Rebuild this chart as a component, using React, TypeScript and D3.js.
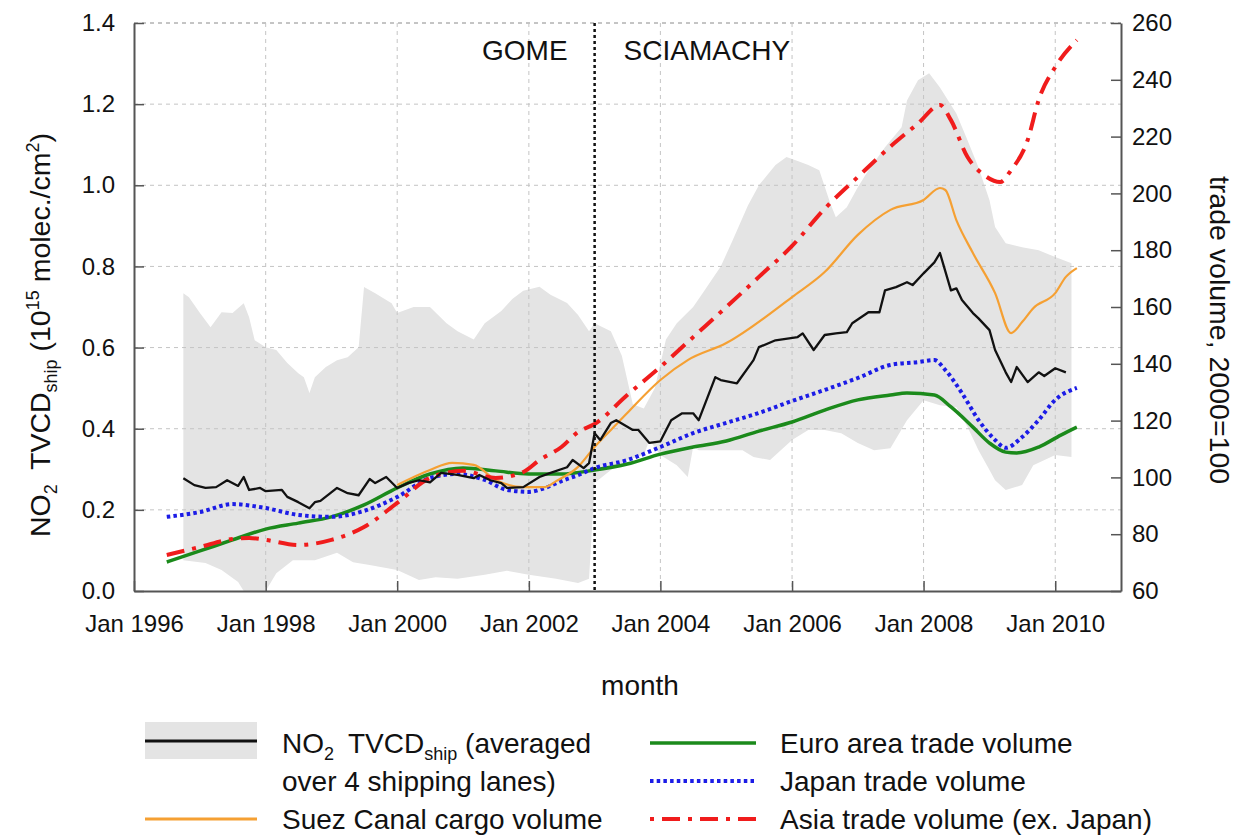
import { useRef, useEffect } from 'react'
import * as d3 from 'd3'

type Pt = [string, number]

// NO2 TVCD_ship averaged over 4 shipping lanes (1e15 molec./cm2), left axis
const no2Mean: Pt[] = [
  ['1996-10', 0.278], ['1996-12', 0.261], ['1997-02', 0.254], ['1997-04', 0.256], ['1997-06', 0.273],
  ['1997-08', 0.259], ['1997-09', 0.281], ['1997-10', 0.249], ['1997-12', 0.254], ['1998-01', 0.246],
  ['1998-04', 0.249], ['1998-05', 0.232], ['1998-07', 0.219], ['1998-09', 0.204], ['1998-10', 0.219],
  ['1998-11', 0.222], ['1999-02', 0.254], ['1999-04', 0.241], ['1999-06', 0.236], ['1999-08', 0.276],
  ['1999-09', 0.266], ['1999-11', 0.281], ['2000-01', 0.254], ['2000-03', 0.266], ['2000-05', 0.273],
  ['2000-07', 0.268], ['2000-09', 0.291], ['2000-12', 0.286], ['2001-03', 0.278], ['2001-04', 0.286],
  ['2001-06', 0.273], ['2001-08', 0.266], ['2001-09', 0.254], ['2001-12', 0.256], ['2002-03', 0.281],
  ['2002-05', 0.291], ['2002-08', 0.305], ['2002-09', 0.323], ['2002-11', 0.303], ['2002-12', 0.315],
  ['2003-01', 0.389], ['2003-02', 0.372], ['2003-04', 0.414], ['2003-05', 0.421], ['2003-08', 0.397],
  ['2003-09', 0.397], ['2003-11', 0.365], ['2004-01', 0.369], ['2004-03', 0.421], ['2004-05', 0.438],
  ['2004-07', 0.438], ['2004-08', 0.421], ['2004-11', 0.527], ['2004-12', 0.52], ['2005-03', 0.512],
  ['2005-06', 0.569], ['2005-07', 0.601], ['2005-10', 0.618], ['2006-02', 0.626], ['2006-03', 0.635],
  ['2006-05', 0.594], ['2006-07', 0.631], ['2006-09', 0.635], ['2006-11', 0.638], ['2006-12', 0.66],
  ['2007-03', 0.687], ['2007-05', 0.687], ['2007-06', 0.741], ['2007-08', 0.749], ['2007-10', 0.761],
  ['2007-11', 0.754], ['2008-01', 0.783], ['2008-03', 0.81], ['2008-04', 0.833], ['2008-06', 0.741],
  ['2008-07', 0.746], ['2008-08', 0.717], ['2008-10', 0.685], ['2008-11', 0.672], ['2009-01', 0.643],
  ['2009-02', 0.594], ['2009-04', 0.539], ['2009-05', 0.515], ['2009-06', 0.552], ['2009-08', 0.515],
  ['2009-10', 0.539], ['2009-11', 0.53], ['2010-01', 0.549], ['2010-03', 0.539],
]

// spread of the 4 lanes (grey band)
const no2Upper: Pt[] = [
  ['1996-10', 0.734], ['1996-11', 0.724], ['1997-01', 0.685], ['1997-03', 0.65], ['1997-05', 0.687],
  ['1997-07', 0.685], ['1997-09', 0.709], ['1997-10', 0.675], ['1997-11', 0.618], ['1998-01', 0.601],
  ['1998-03', 0.594], ['1998-05', 0.562], ['1998-07', 0.537], ['1998-08', 0.527], ['1998-09', 0.488],
  ['1998-10', 0.527], ['1998-12', 0.552], ['1999-02', 0.569], ['1999-04', 0.576], ['1999-06', 0.601],
  ['1999-07', 0.749], ['1999-09', 0.734], ['1999-12', 0.709], ['2000-01', 0.685], ['2000-04', 0.7],
  ['2000-07', 0.7], ['2000-10', 0.66], ['2000-12', 0.64], ['2001-03', 0.62], ['2001-05', 0.66],
  ['2001-08', 0.69], ['2001-10', 0.72], ['2001-12', 0.74], ['2002-03', 0.75], ['2002-05', 0.73],
  ['2002-08', 0.71], ['2002-10', 0.68], ['2002-12', 0.64], ['2003-01', 0.66], ['2003-04', 0.64],
  ['2003-06', 0.58], ['2003-08', 0.46], ['2003-10', 0.45], ['2003-12', 0.5], ['2004-02', 0.62],
  ['2004-04', 0.66], ['2004-07', 0.7], ['2004-09', 0.74], ['2004-12', 0.8], ['2005-02', 0.86],
  ['2005-05', 0.95], ['2005-07', 1.0], ['2005-10', 1.05], ['2005-12', 1.07], ['2006-02', 1.06],
  ['2006-04', 1.05], ['2006-06', 1.037], ['2006-08', 0.956], ['2006-09', 0.921], ['2006-11', 0.946],
  ['2007-01', 0.995], ['2007-03', 1.037], ['2007-06', 1.094], ['2007-09', 1.143], ['2007-10', 1.209],
  ['2007-12', 1.259], ['2008-02', 1.276], ['2008-04', 1.241], ['2008-07', 1.177], ['2008-09', 1.111],
  ['2008-11', 1.044], ['2009-01', 0.963], ['2009-02', 0.897], ['2009-04', 0.857], ['2009-07', 0.847],
  ['2009-10', 0.84], ['2010-01', 0.823], ['2010-04', 0.808],
]

const no2Lower: Pt[] = [
  ['1996-10', 0.076], ['1997-02', 0.069], ['1997-05', 0.052], ['1997-08', 0.022], ['1997-09', 0.0],
  ['1998-01', 0.0], ['1998-03', 0.044], ['1998-06', 0.076], ['1998-10', 0.076], ['1999-02', 0.094],
  ['1999-05', 0.071], ['1999-08', 0.064], ['2000-01', 0.052], ['2000-05', 0.027], ['2000-08', 0.034],
  ['2000-12', 0.03], ['2001-05', 0.04], ['2001-09', 0.05], ['2002-01', 0.04], ['2002-06', 0.03],
  ['2002-10', 0.02], ['2002-12', 0.03], ['2003-01', 0.266], ['2003-04', 0.298], ['2003-07', 0.323],
  ['2003-10', 0.335], ['2003-11', 0.372], ['2004-01', 0.335], ['2004-04', 0.31], ['2004-06', 0.281],
  ['2004-07', 0.355], ['2004-08', 0.347], ['2004-11', 0.347], ['2005-04', 0.347], ['2005-06', 0.33],
  ['2005-09', 0.323], ['2006-01', 0.372], ['2006-04', 0.397], ['2006-07', 0.397], ['2006-10', 0.389],
  ['2007-01', 0.365], ['2007-04', 0.347], ['2007-07', 0.352], ['2007-10', 0.421], ['2008-01', 0.47],
  ['2008-04', 0.458], ['2008-07', 0.453], ['2008-09', 0.404], ['2008-11', 0.347], ['2009-01', 0.298],
  ['2009-02', 0.273], ['2009-04', 0.249], ['2009-07', 0.261], ['2009-09', 0.31], ['2010-01', 0.335],
  ['2010-04', 0.33],
]

// trade / cargo volumes, 2000=100, right axis
const suezCargo: Pt[] = [
  ['2000-01', 97.3], ['2000-07', 102.6], ['2000-11', 105.1], ['2001-03', 104.4], ['2001-07', 99.1],
  ['2001-12', 96.6], ['2002-04', 96.6], ['2002-06', 98.7], ['2002-10', 103.7], ['2003-01', 110.7],
  ['2003-04', 116.7], ['2003-07', 122.7], ['2004-01', 134.3], ['2004-06', 141.3], ['2005-01', 147.3],
  ['2006-01', 163.5], ['2006-07', 172.3], ['2007-01', 185.4], ['2007-07', 194.2], ['2008-01', 197.7],
  ['2008-04', 201.9], ['2008-05', 201.2], ['2008-07', 190.6], ['2008-10', 179.0], ['2009-02', 164.9],
  ['2009-05', 150.8], ['2009-07', 154.7], ['2009-09', 159.6], ['2010-01', 164.9], ['2010-03', 170.6],
  ['2010-05', 173.7],
]

const euroTrade: Pt[] = [
  ['1996-07', 70.2], ['1997-01', 74.1], ['1997-07', 78.0], ['1998-01', 81.8], ['1998-07', 83.9],
  ['1999-01', 86.1], ['1999-07', 90.3], ['2000-01', 96.3], ['2000-07', 101.2], ['2001-01', 103.3],
  ['2001-07', 102.3], ['2002-01', 101.2], ['2002-07', 101.2], ['2003-01', 102.6], ['2003-07', 104.7],
  ['2004-01', 108.2], ['2004-07', 110.7], ['2005-01', 112.8], ['2005-07', 116.3], ['2006-01', 119.5],
  ['2006-07', 123.7], ['2007-01', 127.3], ['2007-07', 129.0], ['2007-10', 129.7], ['2008-03', 129.0],
  ['2008-06', 124.8], ['2008-10', 117.7], ['2009-01', 112.1], ['2009-04', 108.9], ['2009-06', 108.6],
  ['2009-10', 110.7], ['2010-02', 114.9], ['2010-05', 117.7],
]

const japanTrade: Pt[] = [
  ['1996-07', 86.1], ['1997-01', 87.8], ['1997-07', 90.6], ['1998-01', 89.2], ['1998-07', 86.8],
  ['1999-01', 86.1], ['1999-07', 88.2], ['2000-01', 93.1], ['2000-07', 99.8], ['2000-12', 101.2],
  ['2001-05', 99.1], ['2001-09', 95.6], ['2002-01', 94.9], ['2002-04', 96.3], ['2002-07', 98.7],
  ['2002-10', 100.8], ['2003-01', 103.3], ['2003-07', 106.1], ['2004-01', 110.7], ['2004-07', 115.6],
  ['2005-01', 119.2], ['2005-07', 122.7], ['2006-01', 126.9], ['2006-07', 130.8], ['2007-01', 135.0],
  ['2007-07', 139.6], ['2007-12', 140.6], ['2008-03', 141.3], ['2008-05', 137.8], ['2008-08', 129.7],
  ['2008-11', 120.2], ['2009-02', 113.2], ['2009-04', 110.4], ['2009-07', 114.2], ['2009-10', 120.2],
  ['2010-01', 127.3], ['2010-05', 131.5],
]

const asiaTrade: Pt[] = [
  ['1996-07', 72.7], ['1997-01', 75.5], ['1997-07', 78.3], ['1997-10', 78.7], ['1998-01', 78.0],
  ['1998-07', 76.2], ['1999-01', 78.0], ['1999-07', 82.5], ['2000-01', 91.0], ['2000-07', 99.8],
  ['2001-01', 102.3], ['2001-07', 99.8], ['2001-12', 101.9], ['2002-03', 106.1], ['2002-07', 110.7],
  ['2002-10', 116.0], ['2003-01', 118.8], ['2003-07', 129.0], ['2004-01', 138.9], ['2004-07', 149.4],
  ['2005-01', 160.0], ['2005-07', 170.6], ['2006-01', 181.5], ['2006-07', 194.6], ['2007-01', 205.8],
  ['2007-07', 216.5], ['2007-12', 224.6], ['2008-04', 231.1], ['2008-06', 225.8], ['2008-09', 212.8],
  ['2008-12', 206.5], ['2009-03', 204.0], ['2009-05', 208.2], ['2009-08', 218.8], ['2009-10', 232.9],
  ['2010-01', 244.5], ['2010-05', 254.0],
]

const leftTicks = [0, 0.2, 0.4, 0.6, 0.8, 1.0, 1.2, 1.4]
const rightTicks = [60, 80, 100, 120, 140, 160, 180, 200, 220, 240, 260]
const yearTicks = ['1996-01', '1998-01', '2000-01', '2002-01', '2004-01', '2006-01', '2008-01', '2010-01']
const instrumentSwitch = '2003-01'

const FONT = '"Liberation Sans", Arial, sans-serif'

export default function App() {
  const svgRef = useRef<SVGSVGElement>(null)

  useEffect(() => {
    if (!svgRef.current) return
    const svg = d3.select(svgRef.current)
    svg.selectAll('*').remove()

    const width = 1240
    const height = 835
    const margin = { top: 23, right: 119, bottom: 244, left: 134 }
    const innerW = width - margin.left - margin.right
    const innerH = height - margin.top - margin.bottom

    svg.attr('width', width).attr('height', height)
    const g = svg.append('g').attr('transform', `translate(${margin.left},${margin.top})`)

    const parse = d3.timeParse('%Y-%m')
    const dt = (s: string) => parse(s) as Date

    const x = d3.scaleTime().domain([dt('1996-01'), dt('2011-01')]).range([0, innerW])
    const yL = d3.scaleLinear().domain([0, 1.4]).range([innerH, 0])
    const yR = d3.scaleLinear().domain([60, 260]).range([innerH, 0])

    // grey band: upper edge forward, lower edge back
    const bandPts: [number, number][] = [
      ...no2Upper.map((p) => [x(dt(p[0])), yL(p[1])] as [number, number]),
      ...[...no2Lower].reverse().map((p) => [x(dt(p[0])), yL(p[1])] as [number, number]),
    ]
    g.append('path').attr('d', d3.line()(bandPts) + 'Z').attr('fill', '#e4e4e4')

    // grid
    g.selectAll('.hgrid')
      .data(leftTicks.slice(1))
      .join('line')
      .attr('x1', 0).attr('x2', innerW)
      .attr('y1', (d) => yL(d)).attr('y2', (d) => yL(d))
      .attr('stroke', (d) => (d === 1.4 ? '#8a8a8a' : '#c4c4c4'))
      .attr('stroke-width', 1)
      .attr('stroke-dasharray', '4,4')
    g.selectAll('.vgrid')
      .data(yearTicks.slice(1))
      .join('line')
      .attr('x1', (d) => x(dt(d))).attr('x2', (d) => x(dt(d)))
      .attr('y1', 0).attr('y2', innerH)
      .attr('stroke', '#c4c4c4')
      .attr('stroke-width', 1)
      .attr('stroke-dasharray', '4,4')

    // series
    const lineL = d3.line<Pt>().x((d) => x(dt(d[0]))).y((d) => yL(d[1]))
    const lineR = d3.line<Pt>().x((d) => x(dt(d[0]))).y((d) => yR(d[1])).curve(d3.curveMonotoneX)

    g.append('path').attr('d', lineR(euroTrade)).attr('fill', 'none')
      .attr('stroke', '#1b8a1b').attr('stroke-width', 3.5)
    g.append('path').attr('d', lineR(japanTrade)).attr('fill', 'none')
      .attr('stroke', '#1c1ce6').attr('stroke-width', 4).attr('stroke-dasharray', '3.5,3.2')
    g.append('path').attr('d', lineR(suezCargo)).attr('fill', 'none')
      .attr('stroke', '#f5a033').attr('stroke-width', 2.2)
    g.append('path').attr('d', lineR(asiaTrade)).attr('fill', 'none')
      .attr('stroke', '#f01c1c').attr('stroke-width', 4).attr('stroke-dasharray', '18,8,4,8')
    g.append('path').attr('d', lineL(no2Mean)).attr('fill', 'none')
      .attr('stroke', '#111').attr('stroke-width', 2.3).attr('stroke-linejoin', 'round')

    // GOME / SCIAMACHY switch
    const xs = x(dt(instrumentSwitch))
    g.append('line')
      .attr('x1', xs).attr('x2', xs).attr('y1', 0).attr('y2', innerH)
      .attr('stroke', '#111').attr('stroke-width', 2.5).attr('stroke-dasharray', '3,3')
    g.append('text').attr('x', xs - 27).attr('y', 37).attr('text-anchor', 'end')
      .attr('font-family', FONT).attr('font-size', 28).attr('fill', '#111').text('GOME')
    g.append('text').attr('x', xs + 29).attr('y', 37)
      .attr('font-family', FONT).attr('font-size', 28).attr('fill', '#111').text('SCIAMACHY')

    // axes
    const styleAxis = (sel: d3.Selection<SVGGElement, unknown, null, undefined>) => {
      sel.select('.domain').attr('stroke', '#555').attr('stroke-width', 2)
      sel.selectAll('.tick line').attr('stroke', '#555').attr('stroke-width', 1.5)
      sel.selectAll('.tick text').attr('fill', '#111').attr('font-size', 24).attr('font-family', FONT)
    }

    g.append('g')
      .call(d3.axisLeft(yL).tickValues(leftTicks).tickSize(-10).tickSizeOuter(0).tickPadding(19)
        .tickFormat((d) => d3.format('.1f')(d as number)))
      .call(styleAxis)

    g.append('g')
      .attr('transform', `translate(${innerW},0)`)
      .call(d3.axisRight(yR).tickValues(rightTicks).tickSize(-10).tickSizeOuter(0).tickPadding(11))
      .call(styleAxis)

    g.append('g')
      .attr('transform', `translate(0,${innerH})`)
      .call(d3.axisBottom(x).tickValues(yearTicks.map(dt)).tickSize(-10).tickSizeOuter(0).tickPadding(24)
        .tickFormat((d) => d3.timeFormat('Jan %Y')(d as Date)))
      .call(styleAxis)

    // axis titles
    const yLab = svg.append('text')
      .attr('transform', 'translate(50,335) rotate(-90)')
      .attr('text-anchor', 'middle')
      .attr('font-family', FONT).attr('font-size', 28.5).attr('fill', '#111')
    yLab.append('tspan').text('NO')
    yLab.append('tspan').attr('font-size', 18).attr('dy', 7).text('2')
    yLab.append('tspan').attr('dy', -7).text('\u2002TVCD')
    yLab.append('tspan').attr('font-size', 18).attr('dy', 7).text('ship')
    yLab.append('tspan').attr('dy', -7).text(' (10')
    yLab.append('tspan').attr('font-size', 18).attr('dy', -11).text('15')
    yLab.append('tspan').attr('dy', 11).text(' molec./cm')
    yLab.append('tspan').attr('font-size', 18).attr('dy', -11).text('2')
    yLab.append('tspan').attr('dy', 11).text(')')

    svg.append('text')
      .attr('transform', 'translate(1210,330) rotate(90)')
      .attr('text-anchor', 'middle')
      .attr('font-family', FONT).attr('font-size', 28.5).attr('fill', '#111')
      .text('trade volume, 2000=100')

    svg.append('text')
      .attr('x', 640).attr('y', 695).attr('text-anchor', 'middle')
      .attr('font-family', FONT).attr('font-size', 28).attr('fill', '#111')
      .text('month')

    // legend
    const lg = svg.append('g').attr('font-family', FONT).attr('font-size', 28).attr('fill', '#111')
    lg.append('rect').attr('x', 145).attr('y', 722).attr('width', 112).attr('height', 37).attr('fill', '#e4e4e4')
    lg.append('line').attr('x1', 145).attr('x2', 257).attr('y1', 741).attr('y2', 741)
      .attr('stroke', '#111').attr('stroke-width', 2.8)
    lg.append('line').attr('x1', 145).attr('x2', 257).attr('y1', 819).attr('y2', 819)
      .attr('stroke', '#f5a033').attr('stroke-width', 2.8)

    const t1 = lg.append('text').attr('x', 282).attr('y', 753)
    t1.append('tspan').text('NO')
    t1.append('tspan').attr('font-size', 18).attr('dy', 7).text('2')
    t1.append('tspan').attr('dy', -7).text('\u2002TVCD')
    t1.append('tspan').attr('font-size', 18).attr('dy', 7).text('ship')
    t1.append('tspan').attr('dy', -7).text(' (averaged')
    lg.append('text').attr('x', 282).attr('y', 791).text('over 4 shipping lanes)')
    lg.append('text').attr('x', 282).attr('y', 829).text('Suez Canal cargo volume')

    lg.append('line').attr('x1', 650).attr('x2', 756).attr('y1', 743).attr('y2', 743)
      .attr('stroke', '#1b8a1b').attr('stroke-width', 3.5)
    lg.append('line').attr('x1', 650).attr('x2', 756).attr('y1', 781).attr('y2', 781)
      .attr('stroke', '#1c1ce6').attr('stroke-width', 4).attr('stroke-dasharray', '3.5,3.2')
    lg.append('line').attr('x1', 650).attr('x2', 756).attr('y1', 819).attr('y2', 819)
      .attr('stroke', '#f01c1c').attr('stroke-width', 4).attr('stroke-dasharray', '4,8,18,8')
    lg.append('text').attr('x', 780).attr('y', 753).text('Euro area trade volume')
    lg.append('text').attr('x', 780).attr('y', 791).text('Japan trade volume')
    lg.append('text').attr('x', 780).attr('y', 829).text('Asia trade volume (ex. Japan)')
  }, [])

  return (
    <div style={{ position: 'absolute', left: 0, top: 0, width: 1240, height: 835, background: '#fff' }}>
      <svg ref={svgRef} />
    </div>
  )
}
